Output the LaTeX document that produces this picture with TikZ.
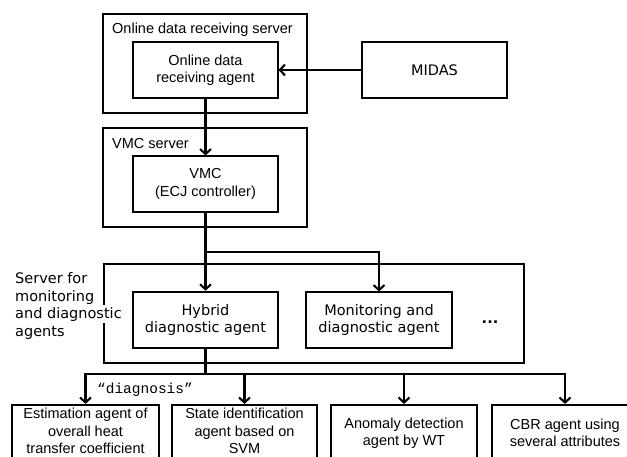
\documentclass[tikz,border=0pt]{standalone}
\usepackage{fontspec}
\setmainfont{Liberation Sans}
\newfontfamily\vfont{DejaVu Sans}
\newfontfamily\mfont{Liberation Mono}
\usetikzlibrary{arrows.meta}
\begin{document}
\begin{tikzpicture}[x=1pt,y=-1pt,
  every node/.style={font=\fontsize{14.5}{17.5}\selectfont, align=center, inner sep=0pt},
  serverbox/.style={draw, line width=1.1pt, minimum height=99pt},
  agentbox/.style={draw, line width=1.1pt, minimum width=145pt, minimum height=56pt},
  thickbox/.style={draw, line width=2.6pt, minimum width=145pt, minimum height=56pt},
  subbox/.style={draw, line width=2.2pt, minimum width=146pt, minimum height=56pt, font=\fontsize{14.5}{16.5}\selectfont},
  arr/.style={line width=2.1pt, -{Straight Barb[length=5pt,width=11pt]}},
  conn/.style={line width=2.1pt}
]
\clip (0,0) rectangle (627,456);
% servers
\node[serverbox, minimum width=204pt] (srv1) at (205,63.5) {};
\node[anchor=base west] (srv1lab) at (112,33) {Online data receiving server};
\node[agentbox] (agent1) at (205.5,70) {Online data\\receiving agent};
\node[agentbox, font=\vfont\fontsize{14.5}{17.5}\selectfont] (midas) at (434.5,70) {MIDAS};

\node[serverbox, minimum width=204pt] (srv2) at (205,177.5) {};
\node[anchor=base west] (srv2lab) at (112,148) {VMC server};
\node[agentbox] (vmc) at (205.5,184) {VMC\\(ECJ controller)};

\node[serverbox, minimum width=420pt] (srv3) at (314,313.5) {};
\node[anchor=base west, font=\vfont\fontsize{14.5}{17.5}\selectfont] (lab3a) at (15,283) {Server for};
\node[anchor=base west, font=\vfont\fontsize{14.5}{17.5}\selectfont] (lab3b) at (15,301) {monitoring};
\node[anchor=base west, font=\vfont\fontsize{14.5}{17.5}\selectfont, fill=white, inner ysep=2pt] (lab3c) at (15,318) {and diagnostic};
\node[anchor=base west, font=\vfont\fontsize{14.5}{17.5}\selectfont] (lab3d) at (15,336) {agents};

\node[thickbox, font=\vfont\fontsize{14.5}{17.5}\selectfont] (hybrid) at (205.5,320) {Hybrid\\diagnostic agent};
\node[agentbox, minimum width=146pt, font=\vfont\fontsize{14.5}{17.5}\selectfont] (mon) at (379,320) {Monitoring and\\diagnostic agent};
\node[font=\vfont\fontsize{14.5}{17.5}\selectfont\bfseries] (dots) at (490,322) {...};

% bottom agents
\node[subbox, minimum width=147pt] (b1) at (85.5,433) {};
\node (b1t) at (85.5,431) {\fontsize{14.5}{16.5}\selectfont Estimation agent of\\overall heat\\transfer coefficient};
\node[subbox, minimum width=145pt] (b2) at (244.5,433) {};
\node (b2t) at (244.5,431) {\fontsize{14.5}{16.5}\selectfont State identification\\agent based on\\SVM};
\node[subbox] (b3) at (404,433) {Anomaly detection\\agent by WT};
\node[subbox] (b4) at (565,433) {CBR agent using\\several attributes};

\node[font=\mfont\fontsize{14.5}{17.5}\selectfont] (diag) at (145,390) {“diagnosis”};

% connectors
\draw[arr] (midas.west) -- (agent1.east);
\draw[arr] (agent1.south) -- (vmc.north);
\coordinate (j1) at (205.5,252);
\draw[conn] (vmc.south) -- (j1);
\draw[arr] (j1) -- (hybrid.north);
\draw[arr] (j1) -| (mon.north);
\coordinate (j2) at (205.5,374);
\draw[conn] (hybrid.south) -- (j2);
\draw[arr] (j2) -| (b1.north);
\draw[arr] (j2) -| (b2.north);
\draw[arr] (j2) -| (b3.north);
\draw[arr] (j2) -| (b4.north);
\end{tikzpicture}
\end{document}
